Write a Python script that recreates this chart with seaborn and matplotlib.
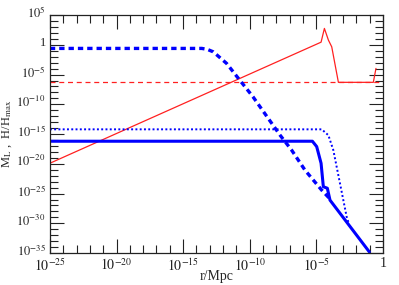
import numpy as np
import matplotlib
matplotlib.use("Agg")
import matplotlib.pyplot as plt
import matplotlib.ticker as mticker
import matplotlib.transforms as mtransforms
import seaborn as sns

# --- data (log10 values) ---
red_logr = [-25.0, -4.65, -4.4, -4.1, -3.85, -3.35, -0.73, -0.53]
red_logy = [-19.9, 0.45, 2.76, 0.8, -0.33, -6.3, -6.3, -3.96]

red_dash_logr = [-25.0, 0.0]
red_dash_logy = [-6.3, -6.3]

blue_dash_logr = [-25.0, -13.6, -13.2, -12.74, -11.74, -10.89, -9.76, -7.73, -6.86, -5.86, -4.61, -3.98]
blue_dash_logy = [-0.6, -0.6, -0.75, -1.17, -3.12, -5.54, -8.73, -15.17, -17.69, -21.05, -24.4, -25.9]

blue_solid_logr = [-25.0, -5.3, -4.98, -4.65, -4.48, -4.18, -3.98, -1.03]
blue_solid_logy = [-16.2, -16.2, -17.1, -19.9, -23.85, -24.1, -26.1, -34.8]

blue_dot_logr = [-25.0, -4.6, -4.1, -3.73, -3.23, -2.73, -2.6]
blue_dot_logy = [-14.2, -14.2, -15.2, -17.7, -23.3, -28.9, -29.8]

x_major = list(range(-25, 1, 5))
y_major = list(range(-35, 6, 5))


def tick_label(v, pos):
    k = int(round(np.log10(v)))
    return "1" if k == 0 else r"$10^{%d}$" % k


sns.set_style("ticks")
plt.rcParams["font.family"] = ["Liberation Serif", "DejaVu Serif"]
plt.rcParams["mathtext.fontset"] = "stix"

fig = plt.figure(figsize=(3.99, 2.85), dpi=100)
ax = fig.add_axes([0.125, 0.112, 0.835, 0.835])

curves = [
    (red_logr, red_logy, "#ff2020", "-", 0.9),
    (red_dash_logr, red_dash_logy, "#ff2020", (0, (4, 3)), 0.9),
    (blue_dash_logr, blue_dash_logy, "#0000ff", (0, (1.6, 1.2)), 2.4),
    (blue_solid_logr, blue_solid_logy, "#0000ff", "-", 2.2),
    (blue_dot_logr, blue_dot_logy, "#0000ff", (0, (1, 1.2)), 1.4),
]
for lr, ly, col, ls, lw in curves:
    sns.lineplot(x=10.0 ** np.array(lr), y=10.0 ** np.array(ly), ax=ax,
                 color=col, linestyle=ls, linewidth=lw, sort=False,
                 estimator=None)

ax.set_xscale("log")
ax.set_yscale("log")
ax.set_xlim(1e-25, 1)
ax.set_ylim(1e-35, 1e5)

ax.xaxis.set_major_locator(mticker.FixedLocator([10.0 ** k for k in x_major]))
ax.xaxis.set_minor_locator(mticker.FixedLocator([10.0 ** k for k in range(-25, 1)]))
ax.yaxis.set_major_locator(mticker.FixedLocator([10.0 ** k for k in y_major]))
ax.yaxis.set_minor_locator(mticker.FixedLocator([10.0 ** k for k in range(-35, 6)]))
ax.xaxis.set_major_formatter(mticker.FuncFormatter(tick_label))
ax.yaxis.set_major_formatter(mticker.FuncFormatter(tick_label))
ax.xaxis.set_minor_formatter(mticker.NullFormatter())
ax.yaxis.set_minor_formatter(mticker.NullFormatter())

ax.tick_params(which="both", direction="in", top=True, right=True,
               colors="#222222", width=0.8)
ax.tick_params(axis="x", labelsize=10, pad=3)
ax.tick_params(axis="y", labelsize=9, pad=3)
ax.tick_params(which="major", length=10)
ax.tick_params(which="minor", length=6)
for s in ax.spines.values():
    s.set_linewidth(0.9)
    s.set_color("#222222")

# nudge y tick labels up a little so the "10" sits on the tick
shift = mtransforms.ScaledTranslation(0, 2.5 / 72, fig.dpi_scale_trans)
for t in ax.yaxis.get_major_ticks():
    t.label1.set_transform(t.label1.get_transform() + shift)

ax.set_xlabel("r/Mpc", fontsize=10, labelpad=-3)
ax.set_ylabel(r"M$_{\rm L}$ ,  H/H$_{\rm max}$", fontsize=9)
ax.yaxis.set_label_coords(-0.108, 0.5)

fig.savefig("out.png", dpi=100)
